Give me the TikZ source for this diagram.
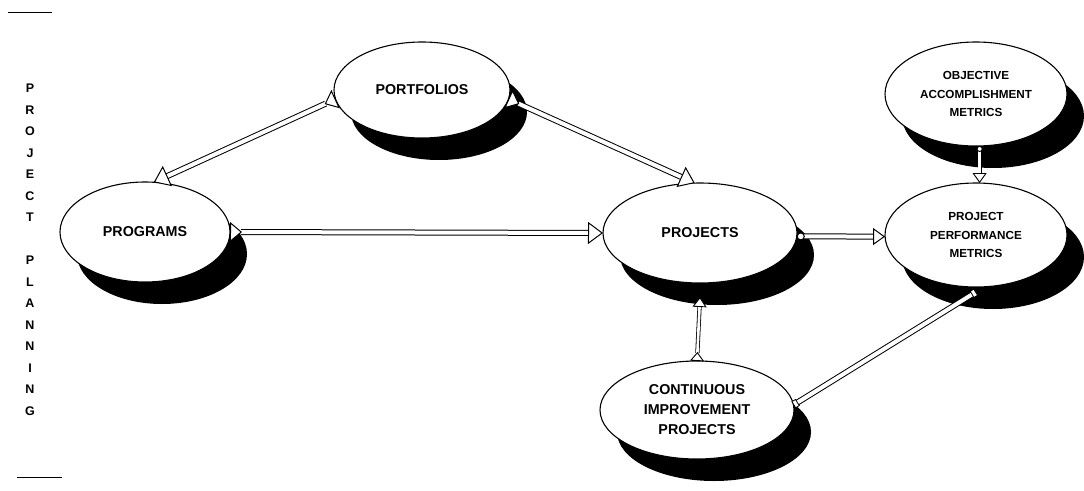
\documentclass[tikz,border=0pt]{standalone}
\usepackage{fontspec}
\setmainfont{Liberation Sans}
\usetikzlibrary{shapes.geometric, arrows.meta, shadows}
\begin{document}
\begin{tikzpicture}[x=1pt, y=-1pt,
  bubble/.style={ellipse, draw=black, line width=1.1pt, fill=white, inner sep=0pt, outer sep=0pt,
    align=center, font=\fontsize{14.3}{20}\selectfont\bfseries,
    drop shadow={shadow xshift=17pt, shadow yshift=-22pt, fill=black, opacity=1}},
  smalltext/.style={font=\fontsize{11.7}{18.5}\selectfont\bfseries},
  shaft/.style={draw=black, line width=1pt, double=white, double distance=4pt},
  thinshaft/.style={draw=black, line width=0.8pt, double=white, double distance=2.6pt},
  tipline/.style={draw=white, line width=2.2pt},
  thintipline/.style={draw=white, line width=1.4pt},
  headtri/.tip={Triangle[open, fill=white, color=black, length=15pt, width=22pt, line width=1pt]},
  midtri/.tip={Triangle[open, fill=white, color=black, length=12pt, width=17pt, line width=1pt]},
  smalltri/.tip={Triangle[open, fill=white, color=black, length=10pt, width=14pt, line width=0.9pt]},
  tailtri/.tip={Triangle[open, reversed, fill=white, color=black, length=12pt, width=20pt, line width=1pt]},
  smalltail/.tip={Triangle[open, reversed, fill=white, color=black, length=9pt, width=14pt, line width=0.9pt]},
  ring/.tip={Circle[open, fill=white, color=black, length=8pt, line width=1pt]},
  smallring/.tip={Circle[open, fill=white, color=black, length=6pt, line width=0.9pt]},
  box/.tip={Square[open, fill=white, color=black, length=5pt, width=8pt, line width=0.8pt]},
  side/.style={font=\fontsize{12.5}{21.5}\selectfont\bfseries, align=center, inner sep=0pt},
  rule/.style={line width=1pt}
]
\useasboundingbox (0,0) rectangle (1084,490);

% side label and rules
\node[side] (label) at (30,250) {P\\R\\O\\J\\E\\C\\T\\[21.5pt]P\\L\\A\\N\\N\\I\\N\\G};
\draw[rule] (8,12) -- (52,12);
\draw[rule] (17,477) -- (62,477);

% bubbles
\node[bubble, minimum width=176pt, minimum height=96pt] (portfolios) at (422,90) {PORTFOLIOS};
\node[bubble, minimum width=170pt, minimum height=100pt] (programs) at (145,232) {PROGRAMS};
\node[bubble, minimum width=194pt, minimum height=100pt] (projects) at (700,233) {PROJECTS};
\node[bubble, smalltext, minimum width=182pt, minimum height=104pt] (oam) at (976,94) {OBJECTIVE\\ACCOMPLISHMENT\\METRICS};
\node[bubble, smalltext, minimum width=182pt, minimum height=104pt] (ppm) at (976,235) {PROJECT\\PERFORMANCE\\METRICS};
\node[bubble, minimum width=194pt, minimum height=98pt] (cip) at (697,410) {CONTINUOUS\\IMPROVEMENT\\PROJECTS};

% connectors: double shafts
\draw[shaft, shorten <=11pt, shorten >=14pt] (portfolios.186) -- (programs.80);
\draw[shaft, shorten <=11pt, shorten >=14pt] (portfolios.354) -- (projects.96);
\draw[shaft, shorten <=11pt, shorten >=14pt] (programs.east) -- (projects.west);
\draw[shaft, shorten <=7pt, shorten >=11pt] (projects.358) -- (ppm.181);
\draw[thinshaft, shorten <=5pt, shorten >=9pt] (oam.274) -- (ppm.86);
\draw[thinshaft, shorten <=8pt, shorten >=9pt] (cip.north) -- ([yshift=-14pt]projects.south);
\draw[shaft, shorten <=4pt, shorten >=4pt] (cip.3) -- ([yshift=-5pt]ppm.south);
% connectors: tips
\draw[tipline, {tailtri}-{headtri}] (portfolios.186) -- (programs.80);
\draw[tipline, {tailtri}-{headtri}] (portfolios.354) -- (projects.96);
\draw[tipline, {tailtri}-{headtri}] (programs.east) -- (projects.west);
\draw[tipline, {ring}-{midtri}] (projects.358) -- (ppm.181);
\draw[thintipline, {smallring}-{smalltri}] (oam.274) -- (ppm.86);
\draw[thintipline, {smalltail}-{smalltri}] (cip.north) -- ([yshift=-14pt]projects.south);
\draw[tipline, {box}-{box}] (cip.3) -- ([yshift=-5pt]ppm.south);
\end{tikzpicture}
\end{document}
